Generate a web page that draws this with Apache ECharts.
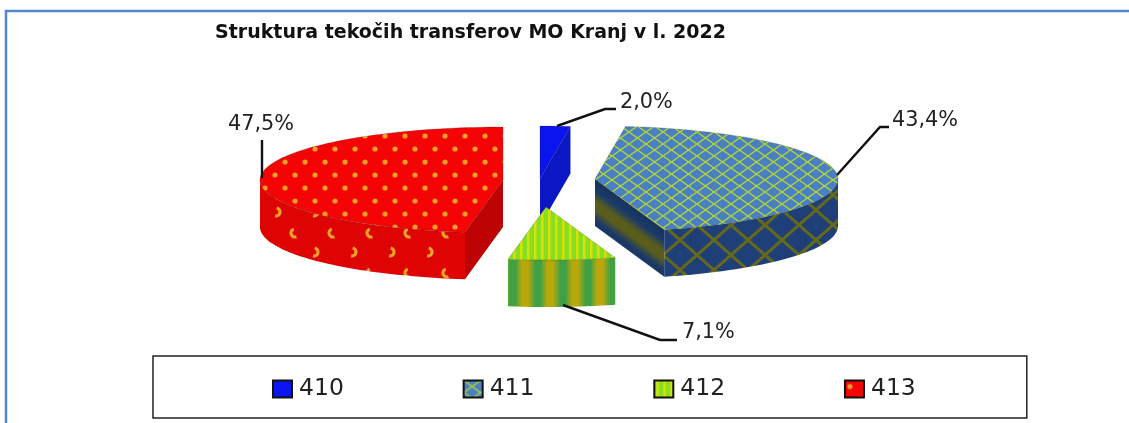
<!DOCTYPE html>
<html>
<head>
<meta charset="utf-8">
<style>
  html, body { margin: 0; padding: 0; background: #fff; }
  #chart { width: 1129px; height: 423px; }
</style>
<script src="https://cdn.jsdelivr.net/npm/echarts@6/dist/echarts.min.js"></script>
</head>
<body>
<div id="chart"></div>
<script>
const titleText = "Struktura tekočih transferov MO Kranj v l. 2022";
const categories = ["410", "411", "412", "413"];
const shares = [2.0, 43.4, 7.1, 47.5];

// exploded pie layout, one entry per slice
const RX = 243;
const RY = 53;
const DEPTH = 47;
const sliceCenters = [[540, 179], [595, 179], [546, 207], [503, 180]];
const sliceZ = [3, 2, 4, 2];
const leaderPaths = [
  [[557, 126], [605, 109], [616, 109]],
  [[837, 175], [880, 127], [889, 127]],
  [[563, 305], [660, 340], [677, 340]],
  [[262, 178], [262, 140]],
];
const labelAnchors = [[620, 103], [892, 121], [682, 333], [228, 125]];

function tile(w, h, draw) {
  const c = document.createElement("canvas");
  c.width = w;
  c.height = h;
  draw(c.getContext("2d"), w, h);
  return { image: c, repeat: "repeat" };
}

function line(ctx, pts) {
  ctx.beginPath();
  pts.forEach((p, i) => (i ? ctx.lineTo(p[0], p[1]) : ctx.moveTo(p[0], p[1])));
  ctx.stroke();
}

const blueTop = tile(8, 8, (ctx, w, h) => {
  ctx.fillStyle = "#0a14ee";
  ctx.fillRect(0, 0, w, h);
});

const latticeTop = tile(17, 12, (ctx, w, h) => {
  ctx.fillStyle = "#4a7fc6";
  ctx.fillRect(0, 0, w, h);
  ctx.strokeStyle = "#b2d82c";
  ctx.lineWidth = 1.4;
  line(ctx, [[0, 0], [w, h]]);
  line(ctx, [[0, h], [w, 0]]);
});

const latticeSide = tile(34, 30, (ctx, w, h) => {
  ctx.fillStyle = "#1f3f78";
  ctx.fillRect(0, 0, w, h);
  ctx.strokeStyle = "#66691a";
  ctx.lineWidth = 3;
  line(ctx, [[0, 0], [w, h]]);
  line(ctx, [[0, h], [w, 0]]);
});

const stripeTop = tile(7, 8, (ctx, w, h) => {
  ctx.fillStyle = "#84e020";
  ctx.fillRect(0, 0, w, h);
  ctx.fillStyle = "#dce006";
  ctx.fillRect(2, 0, 2.5, h);
});

const stripeSide = tile(25, 8, (ctx, w, h) => {
  const g = ctx.createLinearGradient(0, 0, w, 0);
  g.addColorStop(0, "#b8a80c");
  g.addColorStop(0.12, "#b8a80c");
  g.addColorStop(0.42, "#3fa044");
  g.addColorStop(0.62, "#3fa044");
  g.addColorStop(0.88, "#b8a80c");
  g.addColorStop(1, "#b8a80c");
  ctx.fillStyle = g;
  ctx.fillRect(0, 0, w, h);
});

const dotsTop = tile(20, 26, (ctx, w, h) => {
  ctx.fillStyle = "#f40404";
  ctx.fillRect(0, 0, w, h);
  ctx.fillStyle = "#eda022";
  [[5, 6], [15, 19]].forEach((p) => {
    ctx.beginPath();
    ctx.arc(p[0], p[1], 2.6, 0, Math.PI * 2);
    ctx.fill();
  });
});

const dotsSide = tile(38, 40, (ctx, w, h) => {
  ctx.fillStyle = "#de0404";
  ctx.fillRect(0, 0, w, h);
  ctx.strokeStyle = "#eba322";
  ctx.lineWidth = 3.2;
  ctx.beginPath();
  ctx.arc(10, 12, 4, -1.4, 1.8);
  ctx.stroke();
  ctx.beginPath();
  ctx.arc(29, 33, 4, 1.2, 4.4);
  ctx.stroke();
});

const topFills = [blueTop, latticeTop, stripeTop, dotsTop];
const sideFills = ["#0b16c4", latticeSide, stripeSide, dotsSide];

function sliceAngles(index) {
  let before = 0;
  for (let i = 0; i < index; i++) before += shares[i];
  const total = shares.reduce((a, b) => a + b, 0);
  return [(before / total) * Math.PI * 2, ((before + shares[index]) / total) * Math.PI * 2];
}

function arcPoints(cx, cy, from, to) {
  const pts = [];
  const steps = Math.max(2, Math.ceil((to - from) / 0.03));
  for (let i = 0; i <= steps; i++) {
    const a = from + ((to - from) * i) / steps;
    pts.push([cx + RX * Math.sin(a), cy - RY * Math.cos(a)]);
  }
  return pts;
}

function radialWall(cx, cy, angle, index) {
  const ex = cx + RX * Math.sin(angle);
  const ey = cy - RY * Math.cos(angle);
  // dark faces, 411 has an olive band running along the edge
  let fill = index === 3 ? "#bd0303" : "#0b16c4";
  if (index === 1) {
    const mx = (cx + ex) / 2;
    const my = (cy + ey) / 2;
    fill = {
      type: "linear",
      global: true,
      x: mx,
      y: my,
      x2: mx - 25,
      y2: my + 34,
      colorStops: [
        { offset: 0, color: "#17325f" },
        { offset: 0.22, color: "#1b3a68" },
        { offset: 0.42, color: "#5a5c1c" },
        { offset: 0.58, color: "#5a5c1c" },
        { offset: 0.78, color: "#1b3a68" },
        { offset: 1, color: "#17325f" },
      ],
    };
  }
  return {
    type: "polygon",
    shape: { points: [[cx, cy], [ex, ey], [ex, ey + DEPTH], [cx, cy + DEPTH]] },
    style: { fill },
  };
}

function renderSlice(index) {
  return function (params, api) {
    const value = api.value(0);
    const [cx, cy] = sliceCenters[index];
    const [a0, a1] = sliceAngles(index);
    const children = [];

    if (Math.sin(a0) < 0) children.push(radialWall(cx, cy, a0, index));
    if (Math.sin(a1) > 0) children.push(radialWall(cx, cy, a1, index));

    const wallFrom = Math.max(a0, Math.PI / 2);
    const wallTo = Math.min(a1, Math.PI * 1.5);
    if (wallTo > wallFrom) {
      const rim = arcPoints(cx, cy, wallFrom, wallTo);
      const low = rim.map((p) => [p[0], p[1] + DEPTH]).reverse();
      children.push({
        type: "polygon",
        shape: { points: rim.concat(low) },
        style: { fill: sideFills[index] },
      });
    }

    children.push({
      type: "polygon",
      shape: { points: [[cx, cy]].concat(arcPoints(cx, cy, a0, a1)) },
      style: { fill: topFills[index], stroke: "rgba(40,20,0,0.35)", lineWidth: 0.6 },
    });

    children.push({
      type: "polyline",
      shape: { points: leaderPaths[index] },
      style: { fill: "none", stroke: "#111", lineWidth: 2.4 },
    });
    children.push({
      type: "text",
      style: {
        text: value.toFixed(1).replace(".", ",") + "%",
        x: labelAnchors[index][0],
        y: labelAnchors[index][1],
        verticalAlign: "middle",
        fill: "#222",
        fontSize: 20.8,
        fontFamily: "DejaVu Sans",
      },
    });
    return { type: "group", children };
  };
}

const chart = echarts.init(document.getElementById("chart"));
chart.setOption({
  animation: false,
  title: {
    text: titleText,
    left: 215,
    top: 24,
    padding: 0,
    textStyle: { fontFamily: "DejaVu Sans", fontWeight: "bold", fontSize: 19, color: "#111" },
  },
  legend: {
    left: 153,
    top: 356,
    padding: [21, 111, 17, 119],
    itemGap: 118.8,
    itemWidth: 19,
    itemHeight: 17,
    borderColor: "#222",
    borderWidth: 1.5,
    icon: "rect",
    selectedMode: false,
    data: categories,
    textStyle: { fontFamily: "DejaVu Sans", fontSize: 23.5, color: "#222", padding: [0, 0, 0, 2] },
    itemStyle: { borderColor: "#111", borderWidth: 2 },
  },
  graphic: [
    {
      type: "polyline",
      shape: { points: [[6, 423], [6, 11], [1129, 11]] },
      style: { fill: "none", stroke: "#5087c8", lineWidth: 2.5 },
    },
  ],
  series: categories.map((name, i) => ({
    type: "custom",
    name,
    coordinateSystem: "none",
    z: sliceZ[i],
    silent: true,
    itemStyle: { color: topFills[i] },
    data: [[shares[i]]],
    renderItem: renderSlice(i),
  })),
});
</script>
</body>
</html>
